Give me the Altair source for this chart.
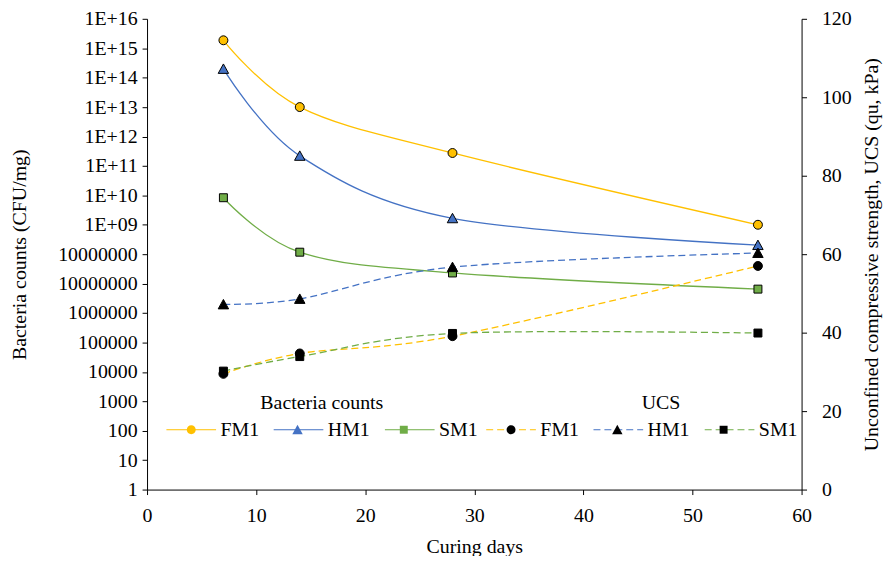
import altair as alt
import pandas as pd

# ---------------- data ----------------
days = [7, 14, 28, 56]
samples = ["FM1", "HM1", "SM1"]

bacteria_FM1 = [1.86e15, 1.0e13, 2.75e11, 1.0e9]
bacteria_HM1 = [1.98e14, 2.2e11, 1.66e9, 2.04e8]
bacteria_SM1 = [8.3e9, 1.17e8, 2.3e7, 6.5e6]

ucs_FM1 = [29.5, 34.7, 39.1, 57.0]
ucs_HM1 = [47.2, 48.6, 56.7, 60.3]
ucs_SM1 = [30.2, 33.9, 39.8, 39.9]

x_ticks = [0, 10, 20, 30, 40, 50, 60]
left_ticks = [10 ** i for i in range(17)]
left_tick_labels = ["1", "10", "100", "1000", "10000", "100000", "1000000",
                    "10000000", "10000000", "1E+09", "1E+10", "1E+11", "1E+12",
                    "1E+13", "1E+14", "1E+15", "1E+16"]
right_ticks = [0, 20, 40, 60, 80, 100, 120]

colors = ["#FFC000", "#4472C4", "#70AD47"]

# marker outlines (custom symbol paths, drawn at SIZE)
marker_paths = [
    "M-0.18,0A0.18,0.18,0,1,0,0.18,0A0.18,0.18,0,1,0,-0.18,0Z",
    "M0,-0.2L0.21,0.18L-0.21,0.18Z",
    "M-0.16,-0.16H0.16V0.16H-0.16Z",
]
LINE_SYMBOL = "M-1,0H1"
SIZE = 2500
FONT = "Liberation Serif"

bac_rows = []
for s, vals in zip(samples, [bacteria_FM1, bacteria_HM1, bacteria_SM1]):
    for d, v in zip(days, vals):
        bac_rows.append({"day": d, "Series": s, "Marker": s, "count": v})
bac = pd.DataFrame(bac_rows)

ucs_rows = []
for s, vals in zip(samples, [ucs_FM1, ucs_HM1, ucs_SM1]):
    for d, v in zip(days, vals):
        ucs_rows.append({"day": d, "Series_u": s, "Marker_u": s, "ucs": v})
ucs = pd.DataFrame(ucs_rows)

label_expr = "[" + ",".join("'" + s + "'" for s in left_tick_labels) + "][round(log(datum.value)/LN10)]"

x_enc = alt.X("day:Q", scale=alt.Scale(domain=[0, 60], nice=False, zero=False),
              axis=alt.Axis(values=x_ticks, title="Curing days", labelFlush=False,
                            labelFont=FONT, titleFont=FONT,
                            labelPadding=11, titlePadding=11))

y_left = alt.Y("count:Q", scale=alt.Scale(type="log", domain=[1, 1e16], nice=False),
               axis=alt.Axis(values=left_ticks, labelExpr=label_expr, labelFlush=False,
                             labelFont=FONT, titleFont=FONT,
                             title="Bacteria counts (CFU/mg)", labelPadding=5, titlePadding=28))

y_right = alt.Y("ucs:Q", scale=alt.Scale(domain=[0, 120], nice=False, zero=True),
                axis=alt.Axis(orient="right", values=right_ticks, labelFlush=False,
                              labelFont=FONT, titleFont=FONT,
                              title="Unconfined compressive strength, UCS (qu, kPa)",
                              titleAngle=270, titleBaseline="top",
                              labelPadding=15, titlePadding=10))

common_leg = dict(orient="none", direction="horizontal", columns=3,
                  labelFont=FONT, labelFontSize=20, labelColor="black",
                  titleFont=FONT, titleFontSize=20, titleFontWeight="normal",
                  titleColor="black", titleAnchor="middle", titlePadding=-9,
                  labelOffset=4, padding=0, rowPadding=0,
                  symbolSize=SIZE, symbolStrokeWidth=1)

bac_line = alt.Chart(bac).mark_line(interpolate="cardinal", tension=0, strokeWidth=1.3).encode(
    x=x_enc, y=y_left,
    stroke=alt.Stroke("Series:N", scale=alt.Scale(range=colors),
                      legend=alt.Legend(title="Bacteria counts", legendX=19, legendY=377,
                                        symbolType=LINE_SYMBOL, zindex=0, columnPadding=12,
                                        **common_leg)),
)

# marker legend sits exactly on top of the line legend (labels left empty)
bac_marker_leg = dict(title=" ", legendX=19, legendY=377, zindex=1, labelExpr="''",
                      columnPadding=52, symbolStrokeColor="black", **common_leg)

bac_pts = alt.Chart(bac).mark_point(filled=True, size=SIZE, stroke="black", strokeWidth=1, opacity=1).encode(
    x=x_enc, y=y_left,
    fill=alt.Fill("Marker:N", scale=alt.Scale(domain=samples, range=colors),
                  legend=alt.Legend(**bac_marker_leg)),
    shape=alt.Shape("Marker:N", scale=alt.Scale(domain=samples, range=marker_paths),
                    legend=alt.Legend(**bac_marker_leg)),
)

ucs_line = alt.Chart(ucs).mark_line(interpolate="cardinal", tension=0, strokeWidth=1.3,
                                    strokeDash=[7, 4]).encode(
    x=x_enc, y=y_right,
    stroke=alt.Stroke("Series_u:N", scale=alt.Scale(range=colors),
                      legend=alt.Legend(title="UCS", titleAlign="left", legendX=341, legendY=377,
                                        symbolType=LINE_SYMBOL, symbolDash=[7, 4],
                                        zindex=0, columnPadding=12, **common_leg)),
)

ucs_pts = alt.Chart(ucs).mark_point(filled=True, size=SIZE, fill="black", stroke="black",
                                    strokeWidth=1, opacity=1).encode(
    x=x_enc, y=y_right,
    shape=alt.Shape("Marker_u:N", scale=alt.Scale(domain=samples, range=marker_paths),
                    legend=alt.Legend(title=" ", legendX=341, legendY=377, zindex=1,
                                      labelExpr="''", columnPadding=52,
                                      symbolFillColor="black", symbolStrokeColor="black",
                                      **common_leg)),
)

left = alt.layer(bac_line, bac_pts)
right = alt.layer(ucs_line, ucs_pts)

chart = alt.layer(left, right).resolve_scale(
    y="independent", stroke="independent", shape="independent", fill="independent"
).properties(
    width=659, height=474,
    autosize=alt.AutoSizeParams(type="none"),
    padding={"left": 140, "top": 9, "right": 84, "bottom": 65},
).configure_axis(
    labelFont=FONT, titleFont=FONT, labelFontSize=20, titleFontSize=20,
    titleFontWeight="normal", labelColor="black", titleColor="black",
    domainColor="black", tickColor="black", grid=False, tickSize=5, domainWidth=1,
).configure_view(stroke=None)

chart.save("out.html", embed_options={"renderer": "svg", "actions": False})
